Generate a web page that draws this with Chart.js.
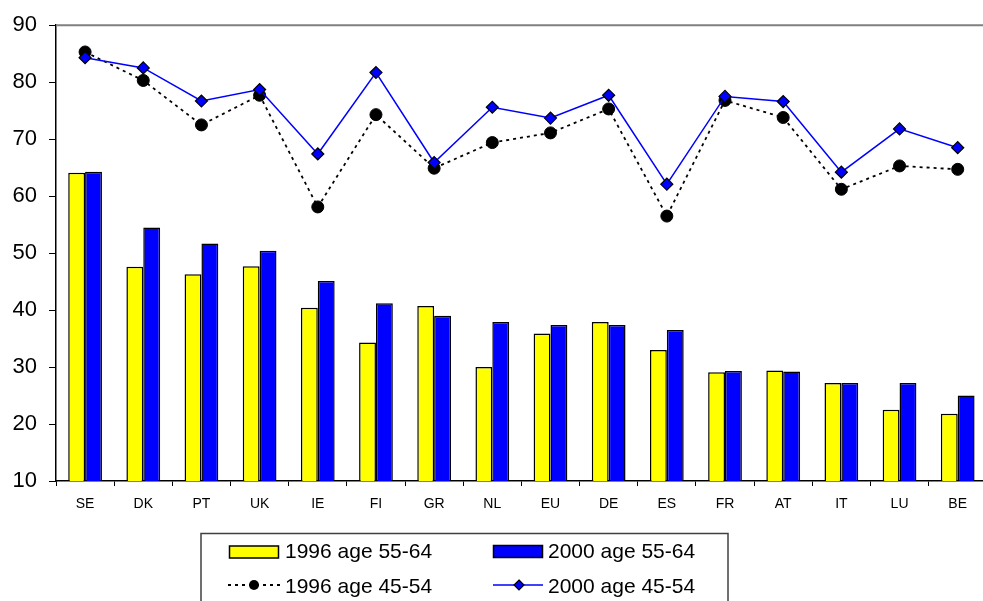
<!DOCTYPE html>
<html>
<head>
<meta charset="utf-8">
<script src="https://cdn.jsdelivr.net/npm/chart.js@4/dist/chart.umd.min.js"></script>
<style>
  html, body { margin: 0; padding: 0; background: #fff; overflow: hidden; }
  #wrap { width: 994px; height: 601px; }
</style>
</head>
<body>
<div id="wrap"><canvas id="chart" width="994" height="601"></canvas></div>
<script>
// Data
const categories = ['SE', 'DK', 'PT', 'UK', 'IE', 'FI', 'GR', 'NL', 'EU', 'DE', 'ES', 'FR', 'AT', 'IT', 'LU', 'BE'];
const bars1996 = [64.1, 47.6, 46.3, 47.7, 40.4, 34.3, 40.7, 30.0, 35.9, 37.9, 33.0, 29.1, 29.4, 27.2, 22.5, 21.8];
const bars2000 = [64.3, 54.5, 51.7, 50.4, 45.1, 41.2, 39.0, 37.9, 37.4, 37.4, 36.5, 29.3, 29.2, 27.2, 27.2, 25.0];
const line1996 = [85.3, 80.3, 72.5, 77.7, 58.1, 74.3, 64.9, 69.4, 71.1, 75.3, 56.5, 76.8, 73.8, 61.2, 65.3, 64.7];
const line2000 = [84.3, 82.5, 76.7, 78.7, 67.4, 81.7, 65.9, 75.6, 73.7, 77.7, 62.1, 77.5, 76.6, 64.2, 71.8, 68.5];
const yMin = 10;
const yMax = 90;
const yStep = 10;

const FONT = '"Liberation Sans", Arial, sans-serif';

// Gray frame line along the top of the plot area
const frameTop = {
    id: 'frameTop',
    beforeDatasetsDraw(chart) {
        const { ctx, chartArea } = chart;
        ctx.save();
        ctx.strokeStyle = '#808080';
        ctx.lineWidth = 2;
        ctx.beginPath();
        ctx.moveTo(chartArea.left, chartArea.top);
        ctx.lineTo(chartArea.right, chartArea.top);
        ctx.lineTo(chartArea.right, chartArea.bottom);
        ctx.stroke();
        ctx.restore();
    }
};

// Boxed legend below the chart, two columns by two rows
const boxLegend = {
    id: 'boxLegend',
    afterDraw(chart) {
        const ctx = chart.ctx;
        const ds = chart.data.datasets;
        ctx.save();
        ctx.strokeStyle = '#404040';
        ctx.lineWidth = 1.5;
        ctx.strokeRect(201, 533.5, 527, 80);

        // bar swatches
        const swatch = (x, y, d) => {
            ctx.fillStyle = d.backgroundColor;
            ctx.fillRect(x, y, 49, 12);
            ctx.strokeStyle = '#000';
            ctx.lineWidth = 1.5;
            ctx.strokeRect(x, y, 49, 12);
        };
        swatch(229.5, 546, ds[2]);
        swatch(493.5, 545.5, ds[3]);

        // line samples
        ctx.strokeStyle = ds[0].borderColor;
        ctx.lineWidth = ds[0].borderWidth;
        ctx.setLineDash(ds[0].borderDash);
        ctx.beginPath();
        ctx.moveTo(228, 585);
        ctx.lineTo(283, 585);
        ctx.stroke();
        ctx.setLineDash([]);
        ctx.fillStyle = '#000';
        ctx.beginPath();
        ctx.arc(254, 585, 5, 0, Math.PI * 2);
        ctx.fill();

        ctx.strokeStyle = ds[1].borderColor;
        ctx.lineWidth = 1.5;
        ctx.beginPath();
        ctx.moveTo(493, 585);
        ctx.lineTo(543, 585);
        ctx.stroke();
        ctx.fillStyle = ds[1].pointBackgroundColor;
        ctx.strokeStyle = '#000';
        ctx.lineWidth = 1.2;
        ctx.beginPath();
        ctx.moveTo(519, 580);
        ctx.lineTo(524, 585);
        ctx.lineTo(519, 590);
        ctx.lineTo(514, 585);
        ctx.closePath();
        ctx.fill();
        ctx.stroke();

        ctx.font = '21px ' + FONT;
        ctx.fillStyle = '#000';
        ctx.textBaseline = 'alphabetic';
        ctx.fillText(ds[2].label, 285, 558);
        ctx.fillText(ds[3].label, 548, 558);
        ctx.fillText(ds[0].label, 285, 593);
        ctx.fillText(ds[1].label, 548, 593);
        ctx.restore();
    }
};

new Chart(document.getElementById('chart'), {
    type: 'bar',
    data: {
        labels: categories,
        datasets: [
            {
                type: 'line',
                label: '1996 age 45-54',
                data: line1996,
                borderColor: '#000000',
                borderWidth: 1.8,
                borderDash: [3, 4],
                pointStyle: 'circle',
                pointRadius: 6,
                pointBackgroundColor: '#000000',
                pointBorderColor: '#000000',
                pointBorderWidth: 1,
                tension: 0,
                order: 1
            },
            {
                type: 'line',
                label: '2000 age 45-54',
                data: line2000,
                borderColor: '#0000ff',
                borderWidth: 1.5,
                pointStyle: 'rectRot',
                pointRadius: 6,
                pointBackgroundColor: '#0000ff',
                pointBorderColor: '#000000',
                pointBorderWidth: 1.2,
                tension: 0,
                order: 0
            },
            {
                label: '1996 age 55-64',
                data: bars1996,
                backgroundColor: '#ffff00',
                borderColor: '#000000',
                borderWidth: 1.5,
                borderSkipped: 'bottom',
                barPercentage: 1.0,
                categoryPercentage: 0.58,
                order: 2
            },
            {
                label: '2000 age 55-64',
                data: bars2000,
                backgroundColor: '#0000ff',
                borderColor: '#000000',
                borderWidth: 1.5,
                borderSkipped: 'bottom',
                barPercentage: 1.0,
                categoryPercentage: 0.58,
                order: 3
            }
        ]
    },
    options: {
        responsive: false,
        animation: false,
        devicePixelRatio: 1,
        layout: { padding: { left: 0, right: 0, top: 21, bottom: 80 } },
        plugins: {
            legend: { display: false },
            tooltip: { enabled: false }
        },
        scales: {
            x: {
                afterFit: (scale) => { scale.height = 40; },
                grid: {
                    offset: true,
                    drawOnChartArea: false,
                    drawTicks: true,
                    tickLength: 5,
                    color: '#000'
                },
                border: { color: '#000', width: 1.5 },
                ticks: {
                    color: '#000',
                    padding: 10,
                    maxRotation: 0,
                    font: { family: FONT, size: 14 }
                }
            },
            y: {
                min: yMin,
                max: yMax,
                afterFit: (scale) => { scale.width = 56; },
                grid: {
                    drawOnChartArea: false,
                    drawTicks: true,
                    tickLength: 7,
                    color: '#000'
                },
                border: { color: '#000', width: 1.5 },
                ticks: {
                    stepSize: yStep,
                    color: '#000',
                    padding: 12,
                    font: { family: FONT, size: 22 }
                }
            }
        }
    },
    plugins: [frameTop, boxLegend]
});
</script>
</body>
</html>
